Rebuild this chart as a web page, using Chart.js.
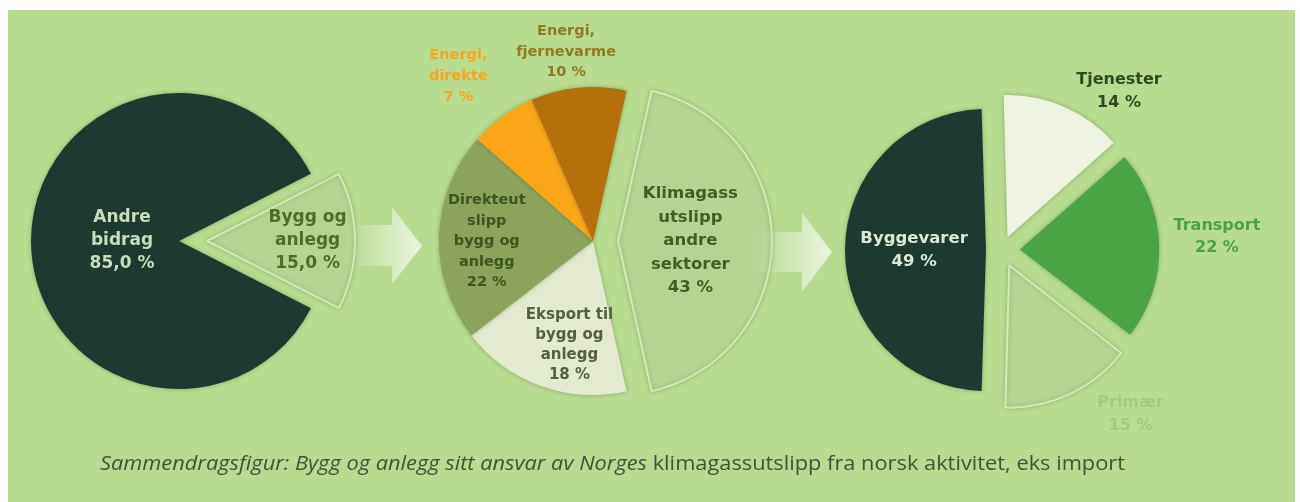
<!DOCTYPE html>
<html><head><meta charset="utf-8">
<script src="https://cdn.jsdelivr.net/npm/chart.js@4.4.0/dist/chart.umd.min.js"></script>
<style>
html,body{margin:0;padding:0;background:#fff;width:1300px;height:502px;overflow:hidden;position:relative;font-family:"DejaVu Sans",sans-serif;}
#panel{position:absolute;left:8px;top:10px;width:1287px;height:492px;background:#b7dc8f;}
#arrows{position:absolute;left:0;top:0;}
canvas{position:absolute;}
#caption{position:absolute;left:100px;top:449px;white-space:nowrap;font-family:"Open Sans",sans-serif;font-weight:400;font-size:20px;color:#44523c;transform-origin:0 0;}
</style></head><body>
<div id="panel"></div>
<svg id="arrows" width="1300" height="502" xmlns="http://www.w3.org/2000/svg">
<defs>
<linearGradient id="g1" x1="345" y1="0" x2="422" y2="0" gradientUnits="userSpaceOnUse">
<stop offset="0" stop-color="#eef6e4" stop-opacity="0"/><stop offset="1" stop-color="#eef6e4" stop-opacity="0.95"/></linearGradient>
<linearGradient id="g2" x1="752" y1="0" x2="832" y2="0" gradientUnits="userSpaceOnUse">
<stop offset="0" stop-color="#eef6e4" stop-opacity="0"/><stop offset="1" stop-color="#eef6e4" stop-opacity="0.95"/></linearGradient>
</defs>
<path d="M345,225 L392,225 L392,207 L422,246 L392,284 L392,266 L345,266 Z" fill="url(#g1)"/>
<path d="M752,232 L802,232 L802,213 L832,252 L802,292 L802,272 L752,272 Z" fill="url(#g2)"/>
</svg>
<div id="caption"><i>Sammendragsfigur: Bygg og anlegg sitt ansvar av Norges</i> klimagassutslipp fra norsk aktivitet, eks import</div>
<script>
// ---- data ----
const pie1Categories = [['Andre','bidrag'], ['Bygg og','anlegg']];
const pie1Values = [85.0, 15.0];
const pie2Categories = [['Klimagass','utslipp','andre','sektorer'], ['Eksport til','bygg og','anlegg'], ['Direkteut','slipp','bygg og','anlegg'], ['Energi,','direkte'], ['Energi,','fjernevarme']];
const pie2Values = [43, 18, 22, 7, 10];
const pie3Categories = [['Tjenester'], ['Transport'], ['Primær'], ['Byggevarer']];
const pie3Values = [14, 22, 15, 49];

// ---- plugins ----
const shadowPlugin = {
  id: 'softShadow',
  beforeDatasetsDraw(chart) { const c = chart.ctx; c.save(); c.shadowColor = 'rgba(40,70,30,0.35)'; c.shadowBlur = 4; },
  afterDatasetsDraw(chart) { chart.ctx.restore(); }
};
const labelPlugin = {
  id: 'sliceLabels',
  afterDatasetsDraw(chart, args, opts) {
    const ctx = chart.ctx;
    const meta = chart.getDatasetMeta(0);
    const ds = chart.data.datasets[0];
    meta.data.forEach((arc, i) => {
      const L = opts.items[i];
      if (!L || !L.show) return;
      const p = arc.getProps(['x','y','startAngle','endAngle','outerRadius'], true);
      const mid = (p.startAngle + p.endAngle) / 2;
      const off = (arc.options.offset || 0) / 4;
      const ang = mid + (L.da || 0) * Math.PI / 180;
      const R = p.outerRadius * L.r;
      const x = p.x + Math.cos(mid) * off + Math.cos(ang) * R;
      const y = p.y + Math.sin(mid) * off + Math.sin(ang) * R;
      const val = ds.data[i].toFixed(opts.decimals).replace('.', ',') + ' %';
      const lines = [].concat(chart.data.labels[i], val);
      ctx.save();
      ctx.font = 'bold ' + L.size + 'px "DejaVu Sans", sans-serif';
      ctx.fillStyle = L.color; ctx.textAlign = 'center'; ctx.textBaseline = 'middle';
      lines.forEach((t, k) => ctx.fillText(t, x, y + (k - (lines.length - 1) / 2) * L.lh));
      ctx.restore();
    });
  }
};

function makePie(o) {
  const S = 560;
  const cv = document.createElement('canvas');
  cv.width = S; cv.height = S;
  cv.style.left = (o.cx + (o.dx || 0) - S / 2) + 'px';
  cv.style.top = (o.cy + (o.dy || 0) - S / 2) + 'px';
  cv.style.width = S + 'px'; cv.style.height = S + 'px';
  document.body.insertBefore(cv, document.getElementById('caption'));
  new Chart(cv, {
    type: 'pie',
    data: {
      labels: o.labels,
      datasets: [{
        data: o.values,
        backgroundColor: o.colors.map((c, i) => o.show[i] ? c : 'rgba(0,0,0,0)'),
        borderColor: o.borders.map((c, i) => o.show[i] && c ? c : 'rgba(0,0,0,0)'),
        borderWidth: o.borders.map((c, i) => o.show[i] && c ? 2 : 0),
        offset: o.offsets || 0
      }]
    },
    options: {
      responsive: false, animation: false, events: [],
      radius: o.radius, rotation: o.rotation,
      layout: { padding: 0 },
      plugins: {
        legend: { display: false }, tooltip: { enabled: false },
        sliceLabels: { decimals: o.decimals, items: o.labelStyle.map((s, i) => Object.assign({ show: !!o.show[i] }, s)) }
      }
    },
    plugins: [shadowPlugin, labelPlugin]
  });
}

const sum = a => a.reduce((s, v) => s + v, 0);
const EXPL = 'rgba(208,234,178,0.30)', EXPL_B = '#d0e9b6', DARK = '#1c3a30';

// Pie 1
{
  const t = sum(pie1Values);
  const rot = 90 - 360 * (pie1Values[0] + pie1Values[1] / 2) / t;
  const base = { cx: 179, cy: 241, radius: 148, rotation: rot, labels: pie1Categories, values: pie1Values, decimals: 1,
    colors: [DARK, EXPL], borders: [null, EXPL_B],
    labelStyle: [ { r: 0.385, size: 17, lh: 23, color: '#c9dcbc' }, { r: 0.68, size: 17, lh: 23, color: '#4d6e26' } ] };
  makePie(Object.assign({}, base, { show: [1, 0] }));
  makePie(Object.assign({}, base, { show: [0, 1], dx: 28 }));
}
// Pie 2
{
  const t = sum(pie2Values);
  const rot = 90 - 360 * (pie2Values[0] / 2) / t;
  const base = { cx: 593, cy: 241, radius: 154, rotation: rot, labels: pie2Categories, values: pie2Values, decimals: 0,
    colors: [EXPL, '#e3ead0', '#8ba35a', '#fba619', '#b5700b'], borders: [EXPL_B, null, null, null, null],
    labelStyle: [
      { r: 0.47, da: 0, size: 16.5, lh: 23.5, color: '#3f5f25' },
      { r: 0.69, da: -7, size: 15, lh: 20, color: '#55603f' },
      { r: 0.69, da: -2, size: 14.5, lh: 20.5, color: '#3d5521' },
      { r: 1.38, da: -3.3, size: 14.5, lh: 21, color: '#f7a51d' },
      { r: 1.24, da: -2.7, size: 14.5, lh: 20.5, color: '#93791f' } ] };
  makePie(Object.assign({}, base, { show: [0, 1, 1, 1, 1] }));
  makePie(Object.assign({}, base, { show: [1, 0, 0, 0, 0], dx: 25 }));
}
// Pie 3
{
  const t = sum(pie3Values);
  const rot = 270 - 360 * (t - pie3Values[3] / 2) / t;
  const base = { cx: 986, cy: 250, rotation: rot, labels: pie3Categories, values: pie3Values, decimals: 0,
    colors: ['#eef2e1', '#4aa443', EXPL, DARK], borders: [null, null, EXPL_B, null],
    labelStyle: [
      { r: 1.32, da: 14, size: 16, lh: 23, color: '#2e4a22' },
      { r: 1.42, da: -2, size: 16, lh: 22, color: '#4aa443' },
      { r: 1.38, da: -14, size: 16, lh: 23, color: '#a3c97f' },
      { r: 0.51, da: 0, size: 16.5, lh: 23, color: '#dbe8d3' } ] };
  makePie(Object.assign({}, base, { show: [0, 0, 0, 1], radius: 141 }));
  makePie(Object.assign({}, base, { show: [1, 1, 1, 0], radius: 139, dx: 16, offsets: [56, 72, 68, 0] }));
}

// caption width fit
{
  const cap = document.getElementById('caption');
  const w = cap.getBoundingClientRect().width;
  cap.style.transform = 'scaleX(' + (1025 / w) + ')';
}
</script>
</body></html>
